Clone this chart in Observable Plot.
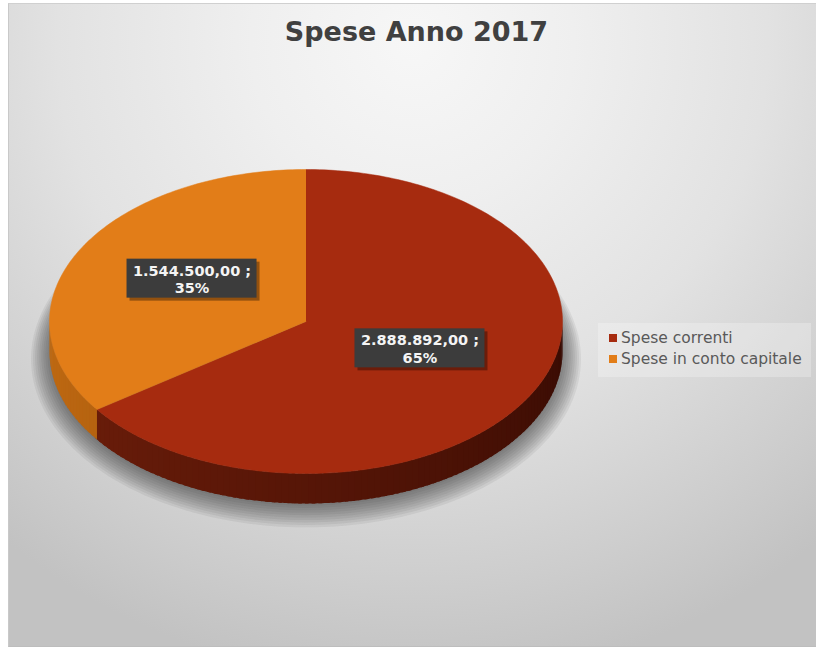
<!DOCTYPE html>
<html><head><meta charset="utf-8">
<script src="https://cdn.jsdelivr.net/npm/d3@7"></script>
<script src="https://cdn.jsdelivr.net/npm/@observablehq/plot@0.6"></script>
<style>
html,body{margin:0;padding:0;background:#fff;}
#frame{position:absolute;left:8px;top:3px;width:808px;height:644px;box-sizing:border-box;
  border-left:1px solid #c9c9c9;border-top:1px solid #d0d0d0;border-bottom:1px solid #bdbdbd;
  background: radial-gradient(ellipse 80% 100% at 50% 6%, #f7f7f7 0%, #efefef 25%, #e2e2e2 55%, #cdcdcd 85%, #c2c2c2 100%);
  font-family:"DejaVu Sans",sans-serif;overflow:hidden;}
#title{height:63px;line-height:56px;text-align:center;font-weight:bold;font-size:27px;color:#404040;padding-left:8px;box-sizing:border-box;}
#row{display:flex;align-items:flex-start;}
#chart svg{display:block;}
#legend{margin-top:256px;width:213px;height:54px;background:rgba(255,255,255,0.25);box-sizing:border-box;padding:4px 0 0 11px;font-size:15.5px;color:#595959;}
.item{display:flex;align-items:center;height:21px;white-space:nowrap;}
.sw{width:8px;height:8px;margin-right:4px;flex:none;}
</style></head>
<body>
<div id="frame"><div id="title"></div><div id="row"><div id="chart"></div><div id="legend"></div></div></div>
<script>
// ---- data ----
const titleText = "Spese Anno 2017";
const categories = ["Spese correnti", "Spese in conto capitale"];
const values = [2888892.00, 1544500.00];
// ---- styles ----
const sliceColors = ["#A62B0F", "#E27D18"];
const sideColors = [["#380b03", "#74200b"], ["#8c4608", "#c06a12"]];

const W = 589, H = 581;
const PX = 256.5;            // pixels per unit radius
const CXP = 296.5, CYP = 254; // pie centre inside the svg (px)
const TILT = 152 / 256.5;
const DEPTH = 30 / 256.5;

const total = d3.sum(values);
const itFmt = d3.formatLocale({decimal: ",", thousands: ".", grouping: [3], currency: ["", ""]}).format(",.2f");

let acc = 0;
const slices = values.map((v, i) => {
  const a0 = acc / total * 360; acc += v;
  return {i, cat: categories[i], value: v, a0, a1: acc / total * 360};
});

const rad = a => a * Math.PI / 180;
const px = (a, r = 1) => r * Math.sin(rad(a));
const py = (a, r = 1) => r * Math.cos(rad(a)) * TILT;
function arcAngles(a0, a1, step = 1) {
  const n = Math.max(1, Math.ceil((a1 - a0) / step));
  return d3.range(n + 1).map(k => a0 + (a1 - a0) * k / n);
}

// soft shadow under the pie: stacked translucent ellipses
const shadowRows = d3.range(10).flatMap(k => arcAngles(0, 360, 2).map(a => ({
  layer: k,
  x: (1.0 + 0.008 * k) * px(a),
  y: (1.0 + 0.012 * k) * py(a) - DEPTH - (2 + k * 0.6) / PX
})));

// side wall strips (front half only), slightly overlapping to hide seams
const sideRows = [];
let sid = 0;
slices.forEach(s => {
  const lo = Math.max(s.a0, 90), hi = Math.min(s.a1, 270);
  if (hi <= lo) return;
  const angs = arcAngles(lo, hi, 1.5);
  for (let k = 0; k < angs.length - 1; k++) {
    const a = angs[k], b = Math.min(angs[k + 1] + 0.8, 270), t = ((a + angs[k + 1]) / 2 - 90) / 180;
    const color = d3.interpolateRgb(sideColors[s.i][0], sideColors[s.i][1])(t);
    const pts = [...arcAngles(a, b, 0.5).map(g => [g, 0]), ...arcAngles(a, b, 0.5).reverse().map(g => [g, 1])];
    pts.forEach(([ang, down]) => sideRows.push({strip: sid, x: px(ang), y: py(ang) - down * DEPTH, color}));
    sid++;
  }
});

// top faces
const topRows = slices.flatMap(s => [
  {slice: s.i, x: 0, y: 0, color: sliceColors[s.i]},
  ...arcAngles(s.a0, s.a1).map(a => ({slice: s.i, x: px(a), y: py(a), color: sliceColors[s.i]}))
]);

// labels
const LABEL_R = 0.5, LIFT = 8 / PX;
const labels = slices.map(s => {
  const m = (s.a0 + s.a1) / 2;
  return {...s, x: px(m, LABEL_R), y: py(m, LABEL_R) + LIFT,
    text: `${itFmt(s.value)} ;\n${Math.round(s.value / total * 100)}%`};
});
const BW = 65 / PX, BH = 19.5 / PX, SH = 3 / PX;

const chart = Plot.plot({
  width: W, height: H, margin: 0,
  x: {domain: [-CXP / PX, (W - CXP) / PX], axis: null},
  y: {domain: [-(H - CYP) / PX, CYP / PX], axis: null},
  color: {type: "identity"},
  style: {background: "transparent", overflow: "visible"},
  marks: [
    Plot.line(shadowRows, {x: "x", y: "y", z: "layer", fill: "#303030", fillOpacity: 0.07, stroke: "none"}),
    Plot.line(sideRows, {x: "x", y: "y", z: "strip", fill: "color", stroke: "none"}),
    Plot.line(topRows, {x: "x", y: "y", z: "slice", fill: "color", stroke: "color", strokeWidth: 0.5}),
    Plot.rect(labels, {x1: d => d.x - BW + SH, x2: d => d.x + BW + SH, y1: d => d.y - BH - SH, y2: d => d.y + BH - SH,
      fill: "#000", fillOpacity: 0.35}),
    Plot.rect(labels, {x1: d => d.x - BW, x2: d => d.x + BW, y1: d => d.y - BH, y2: d => d.y + BH, fill: "#3c3c3c"}),
    Plot.text(labels, {x: "x", y: "y", text: "text", fill: "#f4f4f4", fontSize: 14.5, fontWeight: "bold",
      lineHeight: 1.2, fontFamily: "DejaVu Sans"})
  ]
});

document.getElementById("chart").appendChild(chart);
document.getElementById("title").textContent = titleText;
const legend = d3.select("#legend");
categories.forEach((c, i) => {
  const it = legend.append("div").attr("class", "item");
  it.append("div").attr("class", "sw").style("background", sliceColors[i]);
  it.append("span").text(c);
});
</script>
</body></html>
